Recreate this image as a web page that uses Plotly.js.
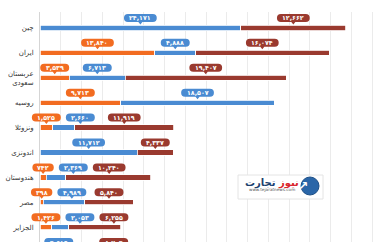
<!DOCTYPE html>
<html>
<head>
<meta charset="utf-8">
<script src="https://cdn.plot.ly/plotly-3.0.1.min.js"></script>
<style>
html,body{margin:0;padding:0;background:#fff;overflow:hidden;}
#chart{width:388px;height:280px;}
</style>
</head>
<body>
<div id="chart"></div>
<script>
// ---- data ----
const categories = ['چین','ایران','عربستان<br>سعودی','روسیه','ونزوئلا','اندونزی','هندوستان','مصر','الجزایر','سایر'];
const orangeVals = [0, 13840, 3539, 9713, 1525, 0, 742, 398, 1426, 0];
const blueVals   = [24171, 4888, 6713, 18507, 2660, 11712, 2369, 4989, 2053, 4519];
const brownVals  = [12662, 16074, 19407, 0, 11919, 4337, 10240, 5840, 6255, 8704];

const colors = {orange:'#F26C21', blue:'#4A8BD2', brown:'#9A3A2F'};
const FONT = 'DejaVu Sans, sans-serif';

const rows = categories.map((c,i)=>i);
const faDigits = '۰۱۲۳۴۵۶۷۸۹';
function toFa(n){ return n.toLocaleString('en-US').replace(/\d/g, d=>faDigits[+d]); }

const series = [
  {name:'orange', vals:orangeVals, color:colors.orange},
  {name:'blue', vals:blueVals, color:colors.blue},
  {name:'brown', vals:brownVals, color:colors.brown}
];

const traces = series.map(s=>({
  type:'bar', orientation:'h', x:s.vals, y:rows, width:0.21,
  marker:{color:s.color, line:{color:'#ffffff', width:0.8}},
  hoverinfo:'none', showlegend:false
}));

const L=40, T=12, PW=348, PH=268, XMAX=41900;
const YTOP=-0.64, YBOT=10.12;
const pxPerUnit = PW/XMAX;
const xPaper = v => v/XMAX;                       // data x -> paper
const yPaper = r => 1 - (r - YTOP)/(YBOT - YTOP); // data row -> paper

// badges, with simple left-to-right collision avoidance
const shapes = [];
const annotations = [];
rows.forEach(i=>{
  let start = 0;
  let prevRight = -Infinity;
  series.forEach(s=>{
    const v = s.vals[i];
    const segStart = start;
    start += v;
    if(v<=0) return;
    const txt = toFa(v);
    const w = txt.length*1.9 + 5; // half width, px
    let cpx = (segStart + v/2)*pxPerUnit;
    if(cpx - w < prevRight + 5) cpx = prevRight + 5 + w;
    prevRight = cpx + w;
    const xc = cpx/pxPerUnit;
    const c = 10, h = 4, r = 4;
    const path = `M ${-w+r},${c+h} L ${w-r},${c+h} Q ${w},${c+h} ${w},${c} Q ${w},${c-h} ${w-r},${c-h} L 2,${c-h} L 0,${c-h-2.5} L -2,${c-h} L ${-w+r},${c-h} Q ${-w},${c-h} ${-w},${c} Q ${-w},${c+h} ${-w+r},${c+h} Z`;
    shapes.push({type:'path', xref:'paper', yref:'paper', xsizemode:'pixel', ysizemode:'pixel',
      xanchor:xPaper(xc), yanchor:yPaper(i), path:path, fillcolor:s.color, line:{width:0}, layer:'above'});
    annotations.push({x:xc, y:i, xref:'x', yref:'y', yshift:10, text:'<b>'+txt+'</b>',
      showarrow:false, font:{family:FONT, size:6.3, color:'#ffffff'}});
  });
});

// logo (pixel -> paper helpers)
const px = v=>(v-L)/PW, py = v=>1-(v-T)/PH;
shapes.push({type:'rect', xref:'paper', yref:'paper', x0:px(238), x1:px(323), y0:py(175), y1:py(199),
  fillcolor:'#ffffff', line:{color:'#e4e4e4', width:1}, layer:'above'});
shapes.push({type:'circle', xref:'paper', yref:'paper', x0:px(301), x1:px(319), y0:py(177), y1:py(195),
  fillcolor:'#2a66a8', line:{color:'#1d4f86', width:1}, layer:'above'});
annotations.push({xref:'paper', yref:'paper', x:px(310), y:py(186), text:'<b>↗</b>', showarrow:false,
  font:{family:FONT, size:12, color:'#ffffff'}});
annotations.push({xref:'paper', yref:'paper', x:px(271.5), y:py(182.5),
  text:'<b><span style="color:#d9262c">نیوز</span> <span style="color:#1c3f6e">تجارت</span></b>',
  showarrow:false, font:{family:FONT, size:10, color:'#1c3f6e'}});
annotations.push({xref:'paper', yref:'paper', x:px(271.5), y:py(194), text:'www.tejaratnews.com',
  showarrow:false, font:{family:FONT, size:4.2, color:'#555'}});

const layout = {
  width:388, height:280,
  margin:{l:L, r:0, t:T, b:0, pad:0},
  barmode:'stack',
  paper_bgcolor:'#ffffff', plot_bgcolor:'#ffffff',
  xaxis:{range:[0, XMAX], dtick:2500, showticklabels:false, showgrid:true, gridcolor:'#ebebeb',
    gridwidth:1, zeroline:false, fixedrange:true},
  yaxis:{range:[YBOT, YTOP], tickvals:rows, ticktext:categories, showgrid:false, zeroline:false,
    showline:true, linecolor:'#d5d5d5', linewidth:1, ticks:'', ticklabelstandoff:4,
    tickfont:{family:FONT, size:7, color:'#333'}, fixedrange:true},
  shapes:shapes,
  annotations:annotations,
  font:{family:FONT}
};

Plotly.newPlot('chart', traces, layout, {displayModeBar:false, staticPlot:true});
</script>
</body>
</html>
